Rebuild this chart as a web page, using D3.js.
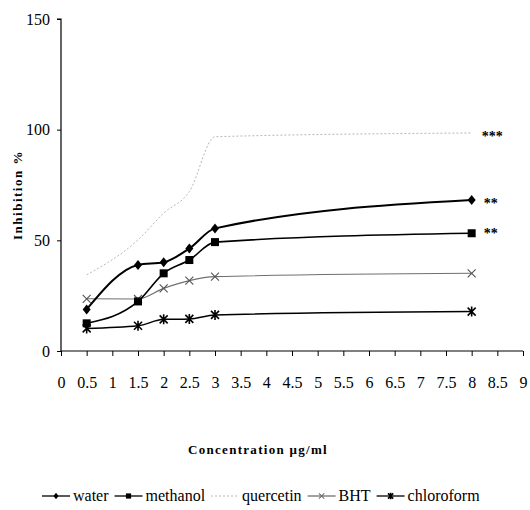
<!DOCTYPE html>
<html>
<head>
<meta charset="utf-8">
<script src="https://cdn.jsdelivr.net/npm/d3@7"></script>
<style>
  body { margin: 0; background: #fff; }
</style>
</head>
<body>
<svg width="530" height="510"></svg>
<script>
// datos
const concentraciones = [0.5, 1.5, 2, 2.5, 3, 8];
const water      = [18.8, 38.9, 40.1, 46.3, 55.4, 68.2];
const methanol   = [12.5, 22.4, 35.1, 41.1, 49.2, 53.2];
const quercetin  = [34.4, 50.2, 62.3, 72.0, 96.8, 98.5];
const bht        = [23.6, 23.5, 28.3, 31.8, 33.6, 35.1];
const chloroform = [10.2, 11.4, 14.3, 14.5, 16.3, 17.8];
const nombres = ["water", "methanol", "quercetin", "BHT", "chloroform"];
const marcas  = { water: "**", methanol: "**", quercetin: "***" };
const yTicks = [0, 50, 100, 150];
const xTicks = d3.range(0, 9.01, 0.5);

const fuente = "'Liberation Serif', serif";

const series = [
  { nombre: "water",      valores: water,      color: "#000", ancho: 2,   dash: null,  simbolo: "diamante" },
  { nombre: "methanol",   valores: methanol,   color: "#000", ancho: 1.6, dash: null,  simbolo: "cuadrado" },
  { nombre: "quercetin",  valores: quercetin,  color: "#b8b8b8", ancho: 1, dash: "2,2", simbolo: null },
  { nombre: "BHT",        valores: bht,        color: "#707070", ancho: 1.1, dash: null, simbolo: "equis" },
  { nombre: "chloroform", valores: chloroform, color: "#000", ancho: 1.5, dash: null,  simbolo: "asterisco" },
];

const svg = d3.select("svg");

const x = d3.scaleLinear().domain([0, 9]).range([61, 523]);
const y = d3.scaleLinear().domain([0, 150]).range([351, 19]);

// ejes
const ejeY = svg.append("g")
  .attr("transform", "translate(61,0)")
  .call(d3.axisLeft(y).tickValues(yTicks).tickSize(4).tickPadding(7));

const ejeX = svg.append("g")
  .attr("transform", "translate(0,351)")
  .call(d3.axisBottom(x).tickValues(xTicks).tickSize(5).tickPadding(21)
    .tickFormat(d => d3.format("")(d)));

svg.selectAll(".domain").attr("stroke", "#000").attr("stroke-width", 1.2);
svg.selectAll(".tick line").attr("stroke", "#000");
ejeY.select(".domain").attr("d", `M-4,${y(150)}H0V${y(0)}`);
ejeX.select(".domain").attr("d", `M${x(0)},0H${x(9)}`);

// titulos
svg.append("text")
  .attr("transform", `translate(22,${(y(0) + y(150)) / 2 + 10}) rotate(-90)`)
  .attr("text-anchor", "middle")
  .attr("font-size", 13)
  .attr("font-weight", "bold")
  .attr("letter-spacing", 1.5)
  .text("Inhibition %");

svg.append("text")
  .attr("x", 258)
  .attr("y", 454)
  .attr("text-anchor", "middle")
  .attr("font-size", 13)
  .attr("font-weight", "bold")
  .attr("letter-spacing", 1.3)
  .text("Concentration \u03BCg/ml");

// simbolos
function dibujarSimbolo(g, tipo, cx, cy, color, t) {
  if (tipo === "diamante") {
    g.append("path").attr("d", `M${cx},${cy - 5 * t}L${cx + 4 * t},${cy}L${cx},${cy + 5 * t}L${cx - 4 * t},${cy}Z`)
      .attr("fill", color);
  } else if (tipo === "cuadrado") {
    g.append("rect").attr("x", cx - 4 * t).attr("y", cy - 4 * t)
      .attr("width", 8 * t).attr("height", 8 * t).attr("fill", color);
  } else if (tipo === "equis") {
    g.append("path").attr("d", `M${cx - 4 * t},${cy - 4 * t}L${cx + 4 * t},${cy + 4 * t}M${cx - 4 * t},${cy + 4 * t}L${cx + 4 * t},${cy - 4 * t}`)
      .attr("stroke", color).attr("stroke-width", 1.1);
  } else if (tipo === "asterisco") {
    g.append("path").attr("d", `M${cx - 4 * t},${cy - 4 * t}L${cx + 4 * t},${cy + 4 * t}M${cx - 4 * t},${cy + 4 * t}L${cx + 4 * t},${cy - 4 * t}M${cx},${cy - 5 * t}V${cy + 5 * t}`)
      .attr("stroke", color).attr("stroke-width", 1.6);
  }
}

const linea = d3.line()
  .x((d, i) => x(concentraciones[i]))
  .y(d => y(d))
  .curve(d3.curveMonotoneX);

// lineas (quercetin primero, queda debajo)
const orden = ["quercetin", "BHT", "chloroform", "methanol", "water"];
orden.forEach(n => {
  const s = series.find(d => d.nombre === n);
  const g = svg.append("g").attr("class", "serie");
  g.append("path")
    .attr("d", linea(s.valores))
    .attr("fill", "none")
    .attr("stroke", s.color)
    .attr("stroke-width", s.ancho)
    .attr("stroke-dasharray", s.dash);
  if (s.simbolo) {
    s.valores.forEach((v, i) => dibujarSimbolo(g, s.simbolo, x(concentraciones[i]), y(v), s.color === "#707070" ? "#555" : s.color, 1));
  }
});

// asteriscos de significancia
Object.keys(marcas).forEach(n => {
  const s = series.find(d => d.nombre === n);
  const ultimo = s.valores[s.valores.length - 1];
  svg.append("text")
    .attr("x", x(8) + (n === "quercetin" ? 10 : 12))
    .attr("y", y(ultimo) + (n === "methanol" ? 5 : 8))
    .attr("font-size", 14)
    .attr("font-weight", "bold")
    .text(marcas[n]);
});

// leyenda
const leyenda = svg.append("g").attr("class", "leyenda");
let lx = 42;
series.forEach(s => {
  const g = leyenda.append("g");
  g.append("line")
    .attr("x1", lx).attr("x2", lx + 28)
    .attr("y1", 496).attr("y2", 496)
    .attr("stroke", s.color)
    .attr("stroke-width", s.nombre === "quercetin" ? 1 : 1.3)
    .attr("stroke-dasharray", s.dash);
  if (s.simbolo) dibujarSimbolo(g, s.simbolo, lx + 14, 496, s.color, 0.65);
  const t = g.append("text")
    .attr("x", lx + 31)
    .attr("y", 501)
    .style("font-family", fuente, "important")
    .attr("font-size", 16)
    .text(s.nombre);
  lx += 31 + t.node().getComputedTextLength() + 6;
});

// fuente para todo el texto, al final
svg.selectAll("g").attr("font-family", null);
svg.selectAll("text")
  .attr("font-family", "Liberation Serif")
  .style("font-family", fuente, "important")
  .attr("fill", "#000");
ejeY.selectAll("text").attr("font-size", 16);
ejeX.selectAll("text").attr("font-size", 16);
</script>
</body>
</html>
